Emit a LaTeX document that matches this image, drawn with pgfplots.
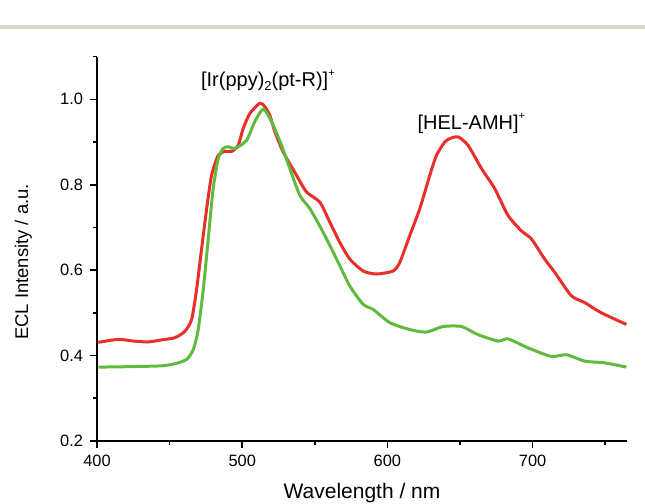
\documentclass[border=0pt]{standalone}
\usepackage{fontspec}
\setmainfont{Liberation Sans}
\usepackage{pgfplots}
\pgfplotsset{compat=1.18}

\definecolor{eclred}{RGB}{232,48,42}
\definecolor{eclgreen}{RGB}{96,186,62}
\definecolor{rulegray}{RGB}{221,216,200}

\newcommand{\lblsub}[1]{\raisebox{-0.35ex}{\fontsize{6.5}{7}\selectfont #1}}
\newcommand{\lblsup}[1]{\raisebox{0.95ex}{\fontsize{5.5}{6}\selectfont #1}}

\begin{document}
\begin{tikzpicture}
% page frame 645 x 504 px, 1 px = 0.5 pt
\useasboundingbox (0pt,0pt) rectangle (322.5pt,252pt);
\draw[rulegray, line width=2pt] (0pt,238.5pt) -- (322.5pt,238.5pt);

\begin{axis}[
    at={(48.5pt,31.5pt)}, anchor=origin,
    scale only axis,
    width=265pt, height=192.2pt,
    xmin=400, xmax=765,
    ymin=0.2, ymax=1.1,
    axis lines=left,
    axis line style={-, line width=0.9pt},
    xtick={400,500,600,700},
    minor xtick={450,550,650,750},
    ytick={0.2,0.4,0.6,0.8,1.0},
    minor ytick={0.3,0.5,0.7,0.9,1.1},
    tick align=outside,
    major tick length=3.5pt,
    minor tick length=2pt,
    tick style={black, line width=0.8pt},
    /pgf/number format/assume math mode=true,
    yticklabel style={/pgf/number format/.cd, fixed, fixed zerofill, precision=1},
    xticklabel style={/pgf/number format/1000 sep={}},
    ticklabel style={font=\fontsize{8.2}{9}\selectfont},
    xlabel={Wavelength / nm},
    ylabel={ECL Intensity / a.u.},
    xlabel style={font=\fontsize{10.5}{12}\selectfont,
        at={(axis description cs:0.5,0)}, anchor=base, yshift=-29pt},
    ylabel style={font=\fontsize{9.2}{11}\selectfont,
        at={(axis description cs:0,0.466)}, anchor=base, yshift=34.5pt},
    clip=false,
]

% red: [Ir(ppy)2(pt-R)]+ with [HEL-AMH]+
\addplot[eclred, line width=1.5pt, smooth, tension=0.4] coordinates {
    (400.9,0.431) (414.7,0.438) (425,0.434) (435.3,0.432) (445,0.437) (453.7,0.442)
    (460.6,0.457) (465.2,0.485) (468.6,0.555) (472,0.649) (475.5,0.743)
    (478.9,0.822) (483.5,0.869) (488.1,0.878) (492.7,0.878) (497.2,0.892)
    (500.7,0.932) (505.3,0.967) (512.2,0.991) (515.6,0.983) (519.1,0.962)
    (522.5,0.924) (528.2,0.877) (537.4,0.822) (544.3,0.783) (553.5,0.759)
    (560.4,0.712) (567.2,0.665) (574.1,0.626) (583.3,0.598) (592.5,0.591)
    (603.9,0.598) (608.5,0.618) (615.4,0.681) (622.3,0.744) (629.2,0.822)
    (633.8,0.869) (639.5,0.900) (642.9,0.908) (648.7,0.912) (655.6,0.892)
    (664.8,0.838) (673.9,0.791) (683.1,0.728) (692.3,0.692) (699.2,0.673)
    (708.3,0.626) (715.2,0.595) (726.7,0.540) (735.9,0.524) (747.4,0.500)
    (764.6,0.473)
};

% green: [Ir(ppy)2(pt-R)]+ alone
\addplot[eclgreen, line width=1.5pt, smooth, tension=0.4] coordinates {
    (400.9,0.373) (421.6,0.374) (444.5,0.376) (453.7,0.381) (461.7,0.391)
    (466.3,0.414) (469.7,0.461) (473.2,0.555) (476.6,0.673) (480,0.791)
    (483.5,0.861) (486.9,0.885) (490.4,0.889) (495,0.885) (503,0.904)
    (508.7,0.948) (514.5,0.977) (520.2,0.948) (527.1,0.892) (532.8,0.838)
    (539.7,0.775) (546.6,0.744) (555.7,0.689) (565,0.626) (574.1,0.563)
    (583.3,0.520) (590.2,0.508) (601.7,0.477) (615.4,0.461) (626.9,0.455)
    (638.3,0.468) (651,0.468) (662.4,0.449) (676.2,0.434) (683.1,0.439)
    (696.9,0.418) (712.9,0.398) (723.3,0.402) (735.9,0.387) (749.6,0.383)
    (764.6,0.373)
};

\node[anchor=base west, inner sep=0pt, font=\fontsize{10}{12}\selectfont]
    at (axis cs:471.4,1.03) {[Ir(ppy)\lblsub{2}(pt-R)]\lblsup{+}};
\node[anchor=base west, inner sep=0pt, font=\fontsize{10}{12}\selectfont]
    at (axis cs:620.5,0.93) {[HEL-AMH]\lblsup{+}};
\end{axis}
\end{tikzpicture}
\end{document}
